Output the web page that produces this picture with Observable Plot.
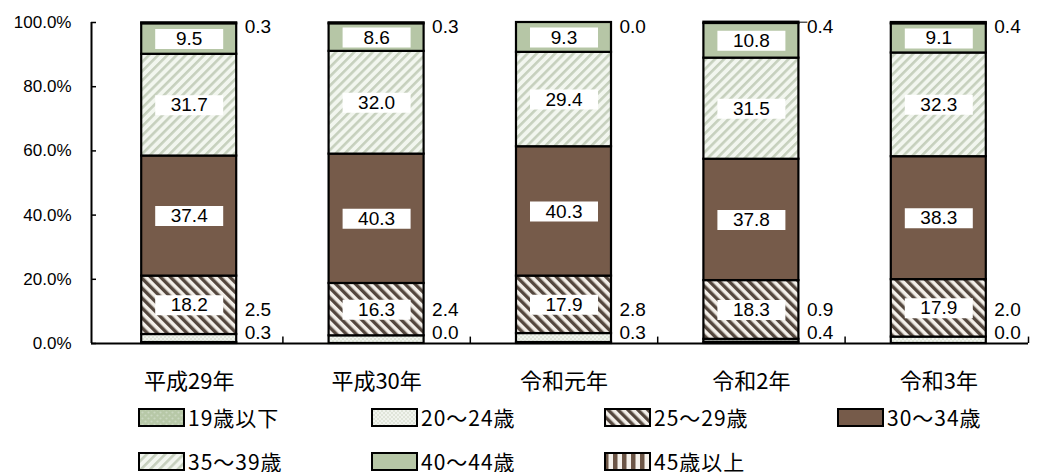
<!DOCTYPE html>
<html>
<head>
<meta charset="utf-8">
<script src="https://cdn.jsdelivr.net/npm/d3@7"></script>
<script src="https://cdn.jsdelivr.net/npm/@observablehq/plot@0.6"></script>
<style>
  body { margin: 0; background: #fff; font-family: "Noto Sans CJK JP", sans-serif; }
  #legend { display: grid; grid-template-columns: repeat(4, 233px); row-gap: 22px;
            padding: 6px 0 0 138px; }
  .item { display: flex; align-items: center; height: 22px; font-size: 21px; line-height: 1; color: #000; }
  .item svg { margin-right: 3px; flex: none; }
  .item span { line-height: 1; letter-spacing: 1px; }
</style>
</head>
<body>
<div id="chart"></div>
<div id="legend"></div>
<script>
// Age-group shares (%) by year, stacked from bottom to top in legend order
const years = ["平成29年", "平成30年", "令和元年", "令和2年", "令和3年"];
const ages = ["19歳以下", "20～24歳", "25～29歳", "30～34歳", "35～39歳", "40～44歳", "45歳以上"];
const age19 = [0.3, 0.0, 0.3, 0.4, 0.0];
const age20 = [2.5, 2.4, 2.8, 0.9, 2.0];
const age25 = [18.2, 16.3, 17.9, 18.3, 17.9];
const age30 = [37.4, 40.3, 40.3, 37.8, 38.3];
const age35 = [31.7, 32.0, 29.4, 31.5, 32.3];
const age40 = [9.5, 8.6, 9.3, 10.8, 9.1];
const age45 = [0.3, 0.3, 0.0, 0.4, 0.4];
const yTicks = [0, 20, 40, 60, 80, 100];
const leaderYears = ["令和2年"];

const series = [age19, age20, age25, age30, age35, age40, age45];
const fills = ["url(#p19)", "url(#p20)", "url(#p25)", "#765b4a", "url(#p35)", "#b6c6a6", "url(#p45)"];
const boxedAges = ["25～29歳", "30～34歳", "35～39歳", "40～44歳"];

// stacked rows
const rows = [];
years.forEach((year, i) => {
  let acc = 0;
  ages.forEach((age, k) => {
    const value = series[k][i];
    rows.push({year, age, value, y1: acc, y2: acc + value, mid: acc + value / 2});
    acc += value;
  });
});
const boxed = rows.filter(d => boxedAges.includes(d.age));
const lower = rows.filter(d => d.age === ages[0]);
const upper = rows.filter(d => d.age === ages[1]);
const topRows = rows.filter(d => d.age === ages[6]);
const leaders = topRows.filter(d => leaderYears.includes(d.year));

const W = 1049, H = 400, ML = 95, MR = 17, MT = 22, MB = 57;
const AXIS_SHIFT = 4; // axis line sits a little left of the first category band
const PAD = 0.493;
const step = (W - ML - MR) / years.length;
const bw = step * (1 - PAD);
const NUM_FONT = '"Liberation Sans", Arial, sans-serif';

// white box behind the in-bar values
const box = {draw(ctx) { ctx.moveTo(-34, -10); ctx.lineTo(34, -10); ctx.lineTo(34, 10); ctx.lineTo(-34, 10); ctx.closePath(); }};
const fmt = d => d.value.toFixed(1);

const svg = Plot.plot({
  width: W, height: H,
  marginLeft: ML, marginRight: MR, marginTop: MT, marginBottom: MB,
  style: {fontFamily: '"Noto Sans CJK JP", sans-serif', fontSize: "17px", color: "#000", background: "#fff", overflow: "visible"},
  x: {domain: years, paddingInner: PAD, paddingOuter: PAD / 2, align: 0.5, round: false, label: null},
  y: {domain: [0, 100], label: null},
  color: {domain: ages, range: fills},
  marks: [
    Plot.barY(rows, {x: "year", y1: "y1", y2: "y2", fill: "age", stroke: "#000", strokeWidth: 2.2}),
    Plot.ruleY([0], {dx: -AXIS_SHIFT, stroke: "#000", strokeWidth: 2}),
    Plot.ruleX([years[0]], {y1: 0, y2: 100, dx: -step / 2 - AXIS_SHIFT, stroke: "#000", strokeWidth: 2}),
    Plot.ruleX(years.slice(1), {y1: 0, y2: 2, dx: -step / 2, stroke: "#000", strokeWidth: 1.5}),
    Plot.ruleX([years[years.length - 1]], {y1: 0, y2: 2, dx: step / 2 - AXIS_SHIFT, stroke: "#000", strokeWidth: 1.5}),
    Plot.tickY(yTicks, {y: d => d, x: () => years[0], dx: -(step - bw) / 2 - AXIS_SHIFT, insetRight: bw - 5, stroke: "#000", strokeWidth: 1.5}),
    Plot.dot(boxed, {x: "year", y: "mid", symbol: box, r: 5, fill: "#fff", stroke: "none"}),
    Plot.text(boxed, {x: "year", y: "mid", text: fmt, fontSize: 19, fontFamily: NUM_FONT, fill: "#000"}),
    Plot.text(lower, {x: "year", y: () => 0, dy: -11, dx: bw / 2 + 8, text: fmt, textAnchor: "start", fontSize: 19, fontFamily: NUM_FONT, fill: "#000"}),
    Plot.text(upper, {x: "year", y: () => 0, dy: -34, dx: bw / 2 + 8, text: fmt, textAnchor: "start", fontSize: 19, fontFamily: NUM_FONT, fill: "#000"}),
    Plot.text(topRows, {x: "year", y: () => 100, dy: 4, dx: bw / 2 + 8, text: fmt, textAnchor: "start", fontSize: 19, fontFamily: NUM_FONT, fill: "#000"}),
    Plot.tickY(leaders, {x: "year", y: "y2", dx: bw, insetRight: bw - 9, stroke: "#000", strokeWidth: 1}),
    Plot.axisY(yTicks, {tickSize: 0, tickPadding: 20 + AXIS_SHIFT, tickFormat: d => d.toFixed(1) + "%", fontSize: 17, fontFamily: NUM_FONT, label: null}),
    Plot.axisX({tickSize: 0, tickPadding: 30, fontSize: 22, label: null})
  ]
});

// fill patterns
const defs = d3.select(svg).insert("defs", ":first-child");
function stripes(id, size, dark, light, darkW, angle) {
  const p = defs.append("pattern").attr("id", id).attr("patternUnits", "userSpaceOnUse")
    .attr("width", size).attr("height", size).attr("patternTransform", `rotate(${angle})`);
  p.append("rect").attr("width", size).attr("height", size).attr("fill", light);
  p.append("rect").attr("width", darkW).attr("height", size).attr("fill", dark);
}
function dots(id, size, bg, dot, r) {
  const p = defs.append("pattern").attr("id", id).attr("patternUnits", "userSpaceOnUse")
    .attr("width", size).attr("height", size);
  p.append("rect").attr("width", size).attr("height", size).attr("fill", bg);
  p.append("circle").attr("cx", size / 4).attr("cy", size / 4).attr("r", r).attr("fill", dot);
  p.append("circle").attr("cx", size * 3 / 4).attr("cy", size * 3 / 4).attr("r", r).attr("fill", dot);
}
dots("p19", 6, "#b7c8a7", "#cbd8c0", 1.1);
dots("p20", 4, "#f1f4ee", "#c2ccb8", 0.7);
stripes("p25", 7, "#54473e", "#f3efe9", 3.4, -45);
stripes("p35", 6.5, "#c6d0bd", "#f2f6ef", 2.6, 45);
stripes("p45", 9, "#6d5646", "#f6f2ec", 4.5, 0);

document.getElementById("chart").append(svg);

// legend
const legend = document.getElementById("legend");
ages.forEach((age, k) => {
  const item = document.createElement("div");
  item.className = "item";
  item.innerHTML = `<svg width="47" height="19"><rect x="1" y="1" width="45" height="17" fill="${fills[k]}" stroke="#000" stroke-width="2"/></svg><span>${age}</span>`;
  legend.append(item);
});
</script>
</body>
</html>
